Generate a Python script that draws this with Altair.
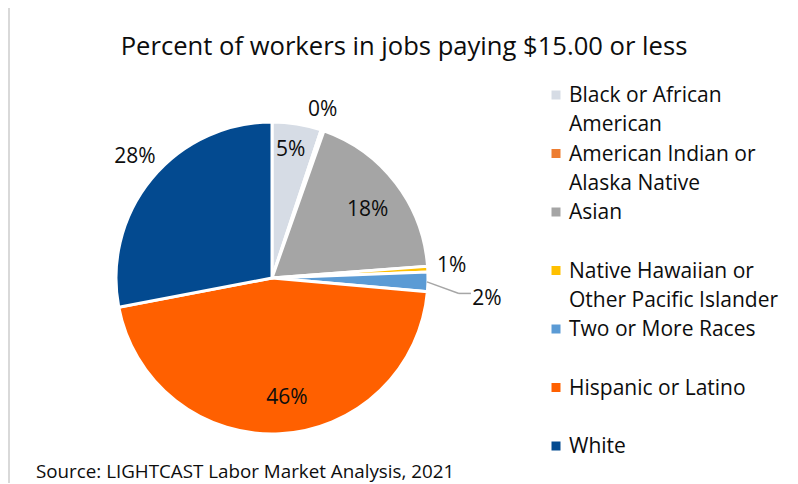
import altair as alt
import pandas as pd
import math

# ---- data ----
categories = [
    "Black or African American",
    "American Indian or Alaska Native",
    "Asian",
    "Native Hawaiian or Other Pacific Islander",
    "Two or More Races",
    "Hispanic or Latino",
    "White",
]
legend_labels = [
    "Black or African\nAmerican",
    "American Indian or\nAlaska Native",
    "Asian",
    "Native Hawaiian or\nOther Pacific Islander",
    "Two or More Races",
    "Hispanic or Latino",
    "White",
]
values = [5.1, 0.3, 18.4, 0.6, 2.0, 45.6, 28.0]
colors = ["#D6DCE5", "#ED7D31", "#A5A5A5", "#FFC000", "#5B9BD5", "#FF6000", "#034A90"]
title_text = "Percent of workers in jobs paying $15.00 or less"
source_text = "Source: LIGHTCAST Labor Market Analysis, 2021"

df = pd.DataFrame({
    "cat": categories,
    "val": values,
    "idx": list(range(len(categories))),
    "label": [f"{round(v)}%" for v in values],
    "legend": legend_labels,
})
total = sum(values)

# ---- style ----
CX, CY, R = 264, 265, 156
FONT = "Open Sans"
TXT = "#0d0d0d"
# label radius and fine offsets (pixels)
label_style = {
    "Black or African American": (129, -2, -1),
    "American Indian or Alaska Native": (175, -6, -2),
    "Asian": (118, 2, 4),
    "Native Hawaiian or Other Pacific Islander": (180, 0, -2),
    "Two or More Races": (216, -1, 16),
    "Hispanic or Latino": (120, 9, 0),
    "White": (183, 4, -4),
}

color_scale = alt.Scale(domain=categories, range=colors)

pie = alt.Chart(df).mark_arc(outerRadius=R, stroke="white", strokeWidth=3).encode(
    theta=alt.Theta("val:Q", stack=True),
    color=alt.Color("cat:N", scale=color_scale, legend=None),
    order=alt.Order("idx:Q"),
    x=alt.value(CX),
    y=alt.value(CY),
)

label_layers = []
for c in categories:
    r, dx, dy = label_style[c]
    label_layers.append(
        alt.Chart(df)
        .transform_window(cum="sum(val)", sort=[alt.SortField("idx")], frame=[None, 0])
        .transform_calculate(mid="datum.cum - datum.val / 2")
        .transform_filter(alt.datum.cat == c)
        .mark_text(radius=r, dx=dx, dy=dy, font=FONT, fontSize=21, color=TXT)
        .encode(
            theta=alt.Theta("mid:Q", scale=alt.Scale(domain=[0, total])),
            text="label:N",
            x=alt.value(CX),
            y=alt.value(CY),
        )
    )

# leader line for the "Two or More Races" label
i2 = categories.index("Two or More Races")
mid2 = sum(values[:i2]) + values[i2] / 2
ang2 = 2 * math.pi * mid2 / total
sx, sy = CX + (R - 1) * math.sin(ang2), CY - (R - 1) * math.cos(ang2)
r2, dx2, dy2 = label_style["Two or More Races"]
lx, ly = CX + r2 * math.sin(ang2) + dx2, CY - r2 * math.cos(ang2) + dy2
ex, ey = lx - 28, ly - 6
one = pd.DataFrame({"a": [0]})
lead1 = alt.Chart(one).mark_rule(color="#A6A6A6", strokeWidth=1.5).encode(
    x=alt.value(sx), y=alt.value(sy), x2=alt.value(ex), y2=alt.value(ey))
lead2 = alt.Chart(one).mark_rule(color="#A6A6A6", strokeWidth=1.5).encode(
    x=alt.value(ex), y=alt.value(ey), x2=alt.value(ex + 12), y2=alt.value(ey))

leg_y = alt.Y("cat:N", sort=categories,
              scale=alt.Scale(type="point", domain=categories, range=[82, 433], padding=0),
              axis=None)
squares = alt.Chart(df).mark_square(size=81, opacity=1, filled=True).encode(
    x=alt.value(548), y=leg_y,
    color=alt.Color("cat:N", scale=color_scale, legend=None))
legend_text = alt.Chart(df).mark_text(
    align="left", baseline="alphabetic", dy=7, lineBreak="\n", lineHeight=29,
    font=FONT, fontSize=21, color=TXT).encode(
    x=alt.value(561), y=leg_y, text="legend:N")

title = alt.Chart(pd.DataFrame({"t": [title_text]})).mark_text(
    font=FONT, fontSize=25.6, color=TXT, baseline="middle", align="center").encode(
    x=alt.value(396), y=alt.value(34), text="t:N")
source = alt.Chart(pd.DataFrame({"t": [source_text]})).mark_text(
    font=FONT, fontSize=18.8, color=TXT, baseline="middle", align="left").encode(
    x=alt.value(28), y=alt.value(459), text="t:N")

border_l = alt.Chart(one).mark_rule(color="#D9D9D9", strokeWidth=2).encode(
    x=alt.value(1), y=alt.value(-7), y2=alt.value(480))
border_t = alt.Chart(one).mark_rule(color="#D9D9D9", strokeWidth=2).encode(
    x=alt.value(0), x2=alt.value(800), y=alt.value(-7))

chart = alt.layer(
    border_l, border_t, pie, *label_layers, lead1, lead2, squares, legend_text, title, source
).resolve_scale(theta="independent").properties(
    width=780, height=470, autosize="none",
    padding={"left": 0, "top": 5, "right": 0, "bottom": 0},
).configure_view(stroke=None)

chart.save("out.html", embed_options={"renderer": "svg", "actions": False})
